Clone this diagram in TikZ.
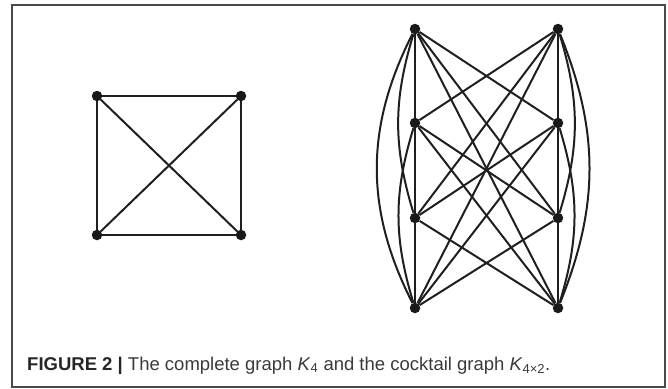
\documentclass[tikz,border=0pt]{standalone}
\usepackage{fontspec}
\setmainfont{Liberation Sans}
\definecolor{framegray}{HTML}{4A4A4A}
\definecolor{textgray}{HTML}{3A3A3A}
\tikzset{
  vtx/.style={circle, fill=black!90, inner sep=0pt, minimum size=10.5pt},
  edge/.style={line width=2pt, black!88},
}
\begin{document}
\begin{tikzpicture}[x=1pt, y=-1pt]
  \useasboundingbox (0,0) rectangle (668,388);
  % frame
  \draw[framegray, line width=1.2pt] (12,5) rectangle (665,387);
  % complete graph K4
  \node[vtx] (a1) at (97,96) {};
  \node[vtx] (a2) at (241,96) {};
  \node[vtx] (a3) at (97,235) {};
  \node[vtx] (a4) at (241,235) {};
  \draw[edge] (a1) -- (a2) -- (a4) -- (a3) -- (a1);
  \draw[edge] (a1) -- (a4);
  \draw[edge] (a2) -- (a3);
  % cocktail graph K_{4x2}
  \foreach \i/\y in {1/29, 2/123, 3/218, 4/308} {
    \node[vtx] (l\i) at (415,\y) {};
    \node[vtx] (r\i) at (558,\y) {};
  }
  % straight sides
  \draw[edge] (l1) -- (l2) -- (l3) -- (l4);
  \draw[edge] (r1) -- (r2) -- (r3) -- (r4);
  % arcs on the sides
  \draw[edge] (l1) to[bend right=17] (l3);
  \draw[edge] (l2) to[bend right=17] (l4);
  \draw[edge] (l1) to[bend right=27] (l4);
  \draw[edge] (r1) to[bend left=17] (r3);
  \draw[edge] (r2) to[bend left=17] (r4);
  \draw[edge] (r1) to[bend left=22] (r4);
  % cross edges (no l_i -- r_i)
  \foreach \i in {1,...,4} {
    \foreach \j in {1,...,4} {
      \ifnum\i=\j\else
        \draw[edge] (l\i) -- (r\j);
      \fi
    }
  }
  % caption
  \node[anchor=base west, inner sep=0pt, text=textgray, font=\fontsize{18.5}{22}\selectfont] (cap) at (27,370)
    {\textbf{\color{black!85}FIGURE 2 |} The complete graph \textit{K}\textsubscript{4} and the cocktail graph \textit{K}\textsubscript{4×2}.};
\end{tikzpicture}
\end{document}
